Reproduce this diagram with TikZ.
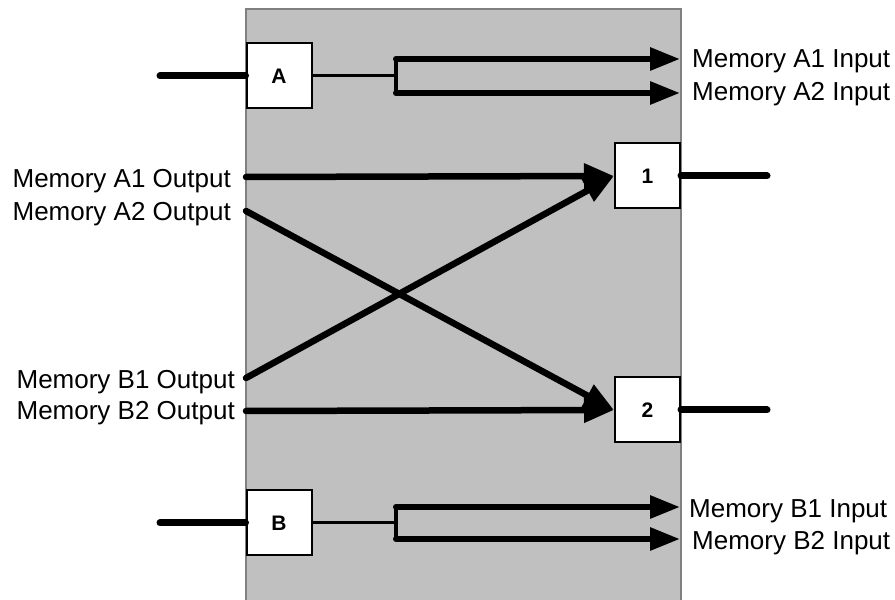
\documentclass[tikz,border=0pt]{standalone}
\usepackage{fontspec}
\setmainfont{Liberation Sans}
\usetikzlibrary{arrows.meta}
\definecolor{panel}{RGB}{192,192,192}
\definecolor{panelline}{RGB}{128,128,128}
\begin{document}
\begin{tikzpicture}[x=1pt,y=1pt,
  blk/.style={draw=black,line width=2pt,fill=white,minimum width=65pt,minimum height=65pt,inner sep=0pt,font=\fontsize{21}{24}\selectfont\bfseries},
  lbl/.style={inner sep=0pt,font=\fontsize{26}{29}\selectfont},
  fat/.style={line width=7pt,line cap=round},
  arr/.style={line width=6pt,line cap=round,-{Triangle[length=30pt,width=22pt]}},
  xarr/.style={line width=6.5pt,line cap=round,-{Triangle[length=30pt,width=24pt]}},
  thinl/.style={line width=3pt},
  branch/.style={line width=3.5pt,line cap=round}]
\useasboundingbox (0,0) rectangle (895,600);
% panel
\fill[panel] (246,-5) rectangle (681,591);
\draw[panelline,line width=1.5pt] (246,-5) -- (246,591) -- (681,591) -- (681,-5);
% boxes
\node[blk] (A) at (279,524) {A};
\node[blk] (B) at (279,77) {B};
\node[blk] (one) at (647.5,424) {1};
\node[blk] (two) at (647.5,190) {2};
% coordinates
\coordinate (ainl) at (160,524);
\coordinate (binl) at (160,77);
\coordinate (ja) at (396,524);
\coordinate (ja1) at (396,541);
\coordinate (ja2) at (396,507);
\coordinate (ea1) at (680,541);
\coordinate (ea2) at (680,507);
\coordinate (jb) at (396,77);
\coordinate (jb1) at (396,93);
\coordinate (jb2) at (396,61);
\coordinate (eb1) at (680,93);
\coordinate (eb2) at (680,61);
\coordinate (oa1) at (246,423);
\coordinate (oa2) at (246,389);
\coordinate (ob1) at (246,222);
\coordinate (ob2) at (246,189);
\coordinate (out1) at (767,424);
\coordinate (out2) at (767,190);
% A branch
\draw[fat] (ainl) -- (A.west);
\draw[thinl] (A.east) -- (ja);
\draw[branch] (ja1) -- (ja2);
\draw[arr] (ja1) -- (ea1);
\draw[arr] (ja2) -- (ea2);
% B branch
\draw[fat] (binl) -- (B.west);
\draw[thinl] (B.east) -- (jb);
\draw[branch] (jb1) -- (jb2);
\draw[arr] (jb1) -- (eb1);
\draw[arr] (jb2) -- (eb2);
% crossing outputs
\draw[xarr] (oa1) -- (one.west);
\draw[xarr] (ob1) -- (one.west);
\draw[xarr] (oa2) -- (two.west);
\draw[xarr] (ob2) -- (two.west);
% outputs
\draw[fat] (one.east) -- (out1);
\draw[fat] (two.east) -- (out2);
% labels
\node[lbl,anchor=base west] (la1) at (692,532.7) {Memory A1 Input};
\node[lbl,anchor=base west] (la2) at (692,499.3) {Memory A2 Input};
\node[lbl,anchor=base west] (lb1) at (689,82.7) {Memory B1 Input};
\node[lbl,anchor=base west] (lb2) at (692,50) {Memory B2 Input};
\node[lbl,anchor=base east] (lao1) at (231,412.7) {Memory A1 Output};
\node[lbl,anchor=base east] (lao2) at (231,379.3) {Memory A2 Output};
\node[lbl,anchor=base east] (lbo1) at (235,211.7) {Memory B1 Output};
\node[lbl,anchor=base east] (lbo2) at (235,180) {Memory B2 Output};
\end{tikzpicture}
\end{document}
